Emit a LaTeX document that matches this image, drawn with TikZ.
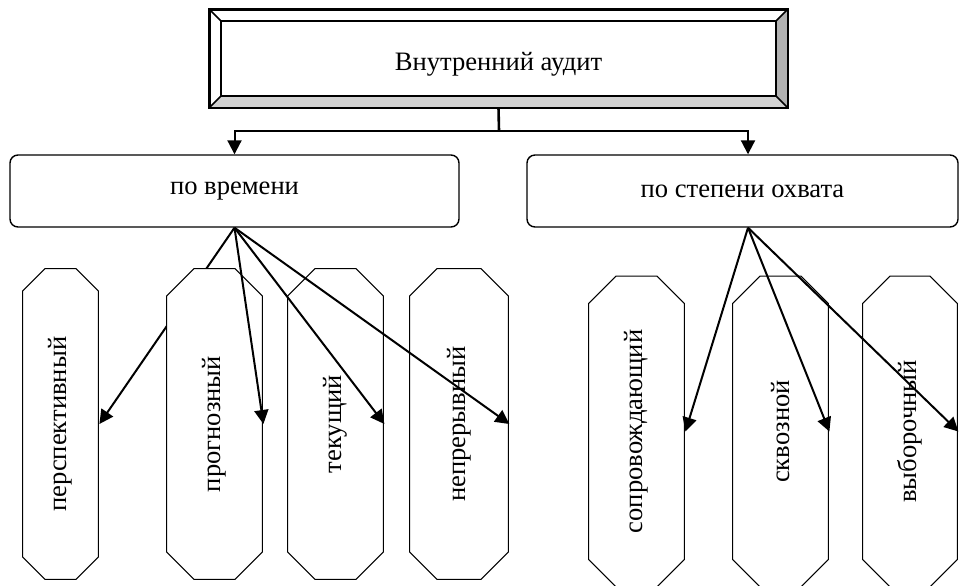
\documentclass[tikz,border=0pt]{standalone}
\usepackage{fontspec}
\setmainfont{Liberation Serif}
\usetikzlibrary{arrows.meta}

\tikzset{
    txt/.style={font=\fontsize{13.3}{16}\selectfont},
    topbox/.style={draw, line width=0.8pt, minimum width=288.5pt, minimum height=48.5pt, inner sep=0pt, txt},
    kindbox/.style={draw, rounded corners=4pt, line width=0.7pt, minimum height=36pt, inner sep=0pt, txt},
    octa/.style={minimum width=48.5pt, minimum height=156pt, inner sep=0pt, txt,
        path picture={
            \draw[line width=0.5pt, fill=white]
                ([shift={(#1,-0.3pt)}]path picture bounding box.north west) --
                ([shift={(-#1,-0.3pt)}]path picture bounding box.north east) --
                ([shift={(-0.3pt,-#1)}]path picture bounding box.north east) --
                ([shift={(-0.3pt,#1)}]path picture bounding box.south east) --
                ([shift={(-#1,0.3pt)}]path picture bounding box.south east) --
                ([shift={(#1,0.3pt)}]path picture bounding box.south west) --
                ([shift={(0.3pt,#1)}]path picture bounding box.south west) --
                ([shift={(0.3pt,-#1)}]path picture bounding box.north west) -- cycle;
        }},
    octa/.default=14pt,
    link/.style={line width=1pt, -{Triangle[length=7pt,width=7pt]}},
}

\begin{document}
\begin{tikzpicture}[x=0.5pt,y=-0.5pt]
    \useasboundingbox (0,0) rectangle (962,585);
    % top frame with bevel
    \node[topbox] (audit) at (498.5,58.5) {\raisebox{-6pt}[0pt][0pt]{Внутренний аудит}};
    \fill[gray!60] (audit.north east) -- (audit.south east) -- ([shift={(-6pt,6pt)}]audit.south east) -- ([shift={(-6pt,-6pt)}]audit.north east) -- cycle;
    \fill[gray!35] (audit.south west) -- (audit.south east) -- ([shift={(-6pt,6pt)}]audit.south east) -- ([shift={(6pt,6pt)}]audit.south west) -- cycle;
    \draw[line width=0.8pt] ([shift={(6pt,-6pt)}]audit.north west) rectangle ([shift={(-6pt,6pt)}]audit.south east);
    \draw[line width=0.8pt] (audit.north west) -- ([shift={(6pt,-6pt)}]audit.north west);
    \draw[line width=0.8pt] (audit.north east) -- ([shift={(-6pt,-6pt)}]audit.north east);
    \draw[line width=0.8pt] (audit.south west) -- ([shift={(6pt,6pt)}]audit.south west);
    \draw[line width=0.8pt] (audit.south east) -- ([shift={(-6pt,6pt)}]audit.south east);
    \draw[line width=0.8pt] (audit.north west) rectangle (audit.south east);

    % second level
    \node[kindbox, minimum width=224.5pt] (bytime) at (234.5,191) {по времени};
    \node[kindbox, minimum width=215.5pt] (bycov) at (742.5,191) {по степени охвата};

    \coordinate (fork) at (499,131);
    \draw[line width=1.3pt] (audit.south) -- (fork);
    \draw[link] (fork) -| (bytime.north);
    \draw[link] (fork) -| ([xshift=2.75pt]bycov.north);

    % third level, by time
    \node[octa=11.5pt, minimum width=38.5pt] (persp) at (60.5,424) {\rotatebox{90}{перспективный}};
    \draw[link] (bytime.south) -- (persp.east);
    \node[octa] (progn) at (214.5,424) {\rotatebox{90}{прогнозный}};
    \node[octa] (curr) at (335.5,424) {\rotatebox{90}{текущий}};
    \node[octa, minimum width=50pt] (cont) at (459,424) {\rotatebox{90}{непрерывный}};
    \draw[link] (bytime.south) -- (progn.east);
    \draw[link] (bytime.south) -- (curr.east);
    \draw[link] (bytime.south) -- (cont.east);

    % third level, by coverage
    \node[octa] (accomp) at (636.5,431.5) {\rotatebox{90}{сопровождающий}};
    \node[octa] (through) at (780.5,431.5) {\rotatebox{90}{сквозной}};
    \node[octa, minimum width=48pt] (sample) at (910,431.5) {\rotatebox{90}{выборочный}};
    \draw[link] ([xshift=2.75pt]bycov.south) -- (accomp.east);
    \draw[link] ([xshift=2.75pt]bycov.south) -- (through.east);
    \draw[link] ([xshift=2.75pt]bycov.south) -- (sample.east);
\end{tikzpicture}
\end{document}
